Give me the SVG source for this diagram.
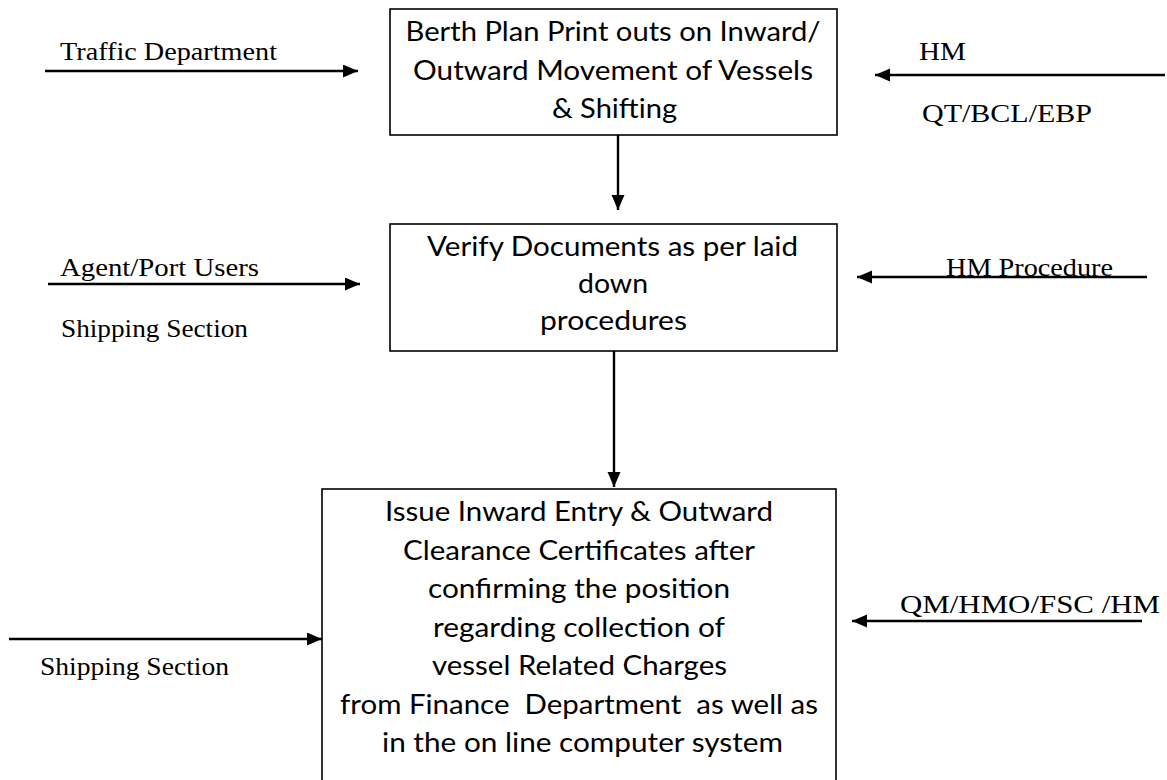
<svg xmlns="http://www.w3.org/2000/svg" width="1167" height="780" viewBox="0 0 1167 780">
<style>
.box{fill:#fff;stroke:#000;stroke-width:1.6}
.bt{font-family:Lato,"Open Sans","Liberation Sans",sans-serif;font-size:26px;fill:#000;text-anchor:middle}
.lb{font-family:"Liberation Serif","DejaVu Serif",serif;font-size:25px;fill:#000}
.c{stroke:#000;stroke-width:2.4;fill:none;marker-end:url(#ah)}
</style>
<defs>
<marker id="ah" markerUnits="userSpaceOnUse" markerWidth="16" markerHeight="14" refX="15" refY="6.5" orient="auto" viewBox="0 0 16 14">
<path d="M0,0 L15,6.5 L0,13 Z" fill="#000"/>
</marker>
</defs>
<rect width="1167" height="780" fill="#fff"/>
<g id="connectors">
<line class="c" x1="45" y1="71" x2="358" y2="71"/>
<line class="c" x1="48" y1="284" x2="360" y2="284"/>
<line class="c" x1="1165" y1="75" x2="875" y2="75"/>
<line class="c" x1="1147" y1="277" x2="857" y2="277"/>
<line class="c" x1="9" y1="639" x2="322" y2="639"/>
<line class="c" x1="1142" y1="621" x2="852" y2="621"/>
<line class="c" x1="618" y1="135" x2="618" y2="210"/>
<line class="c" x1="614" y1="351" x2="614" y2="487"/>
</g>
<g id="node-berth">
<rect class="box" x="390" y="9" width="447" height="126"/>
<text class="bt" x="613" y="41" textLength="415" lengthAdjust="spacingAndGlyphs">Berth Plan Print outs on Inward/</text>
<text class="bt" x="613" y="80" textLength="400" lengthAdjust="spacingAndGlyphs">Outward Movement of Vessels</text>
<text class="bt" x="614.5" y="118" textLength="125" lengthAdjust="spacingAndGlyphs">&amp; Shifting</text>
</g>
<g id="node-verify">
<rect class="box" x="390" y="224" width="447" height="127"/>
<text class="bt" x="612.5" y="256" textLength="371" lengthAdjust="spacingAndGlyphs">Verify Documents as per laid</text>
<text class="bt" x="613" y="293" textLength="70" lengthAdjust="spacingAndGlyphs">down</text>
<text class="bt" x="613.5" y="330" textLength="147" lengthAdjust="spacingAndGlyphs">procedures</text>
</g>
<g id="node-issue">
<rect class="box" x="322" y="489" width="514" height="320"/>
<text class="bt" x="579" y="521" textLength="388" lengthAdjust="spacingAndGlyphs">Issue Inward Entry &amp; Outward</text>
<text class="bt" x="579" y="560" textLength="352" lengthAdjust="spacingAndGlyphs">Clearance Certificates after</text>
<text class="bt" x="579" y="598" textLength="302" lengthAdjust="spacingAndGlyphs">confirming the position</text>
<text class="bt" x="579" y="637" textLength="292" lengthAdjust="spacingAndGlyphs">regarding collection of</text>
<text class="bt" x="579.5" y="675" textLength="295" lengthAdjust="spacingAndGlyphs">vessel Related Charges</text>
<text class="bt" x="579" y="714" textLength="478" lengthAdjust="spacingAndGlyphs" xml:space="preserve">from Finance  Department  as well as</text>
<text class="bt" x="582.5" y="752" textLength="401" lengthAdjust="spacingAndGlyphs">in the on line computer system</text>
</g>
<g id="labels">
<text class="lb" x="60" y="60" textLength="217" lengthAdjust="spacingAndGlyphs">Traffic Department</text>
<text class="lb" x="60" y="276" textLength="199" lengthAdjust="spacingAndGlyphs">Agent/Port Users</text>
<text class="lb" x="61" y="337" textLength="187" lengthAdjust="spacingAndGlyphs">Shipping Section</text>
<text class="lb" x="919" y="60" textLength="47" lengthAdjust="spacingAndGlyphs">HM</text>
<text class="lb" x="922" y="122" textLength="170" lengthAdjust="spacingAndGlyphs">QT/BCL/EBP</text>
<text class="lb" x="946" y="276" textLength="167" lengthAdjust="spacingAndGlyphs">HM Procedure</text>
<text class="lb" x="40" y="675" textLength="189" lengthAdjust="spacingAndGlyphs">Shipping Section</text>
<text class="lb" x="900" y="613" textLength="260" lengthAdjust="spacingAndGlyphs">QM/HMO/FSC /HM</text>
</g>
</svg>
